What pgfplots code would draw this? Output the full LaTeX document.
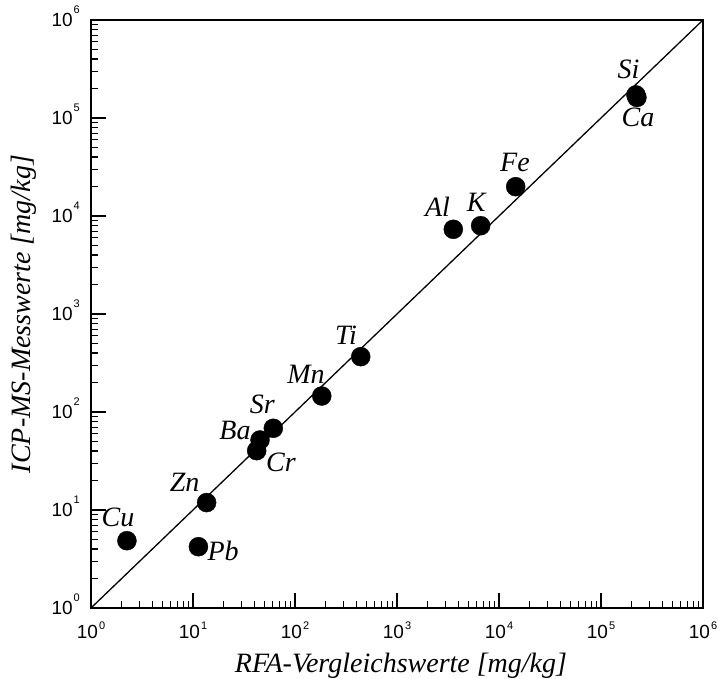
\documentclass[border=0pt]{standalone}
\usepackage{fontspec}
\usepackage{pgfplots}
\usepackage{pgfplotstable}
\pgfplotsset{compat=1.18}
\newfontfamily\seriflab{Liberation Serif}
\newfontfamily\tickf{Liberation Sans}
\newcommand\lab{\seriflab\itshape\fontsize{28}{28}\selectfont}
\newcommand\yt[1]{{\tickf\fontsize{19}{19}\selectfont 10\hspace{1pt}\raisebox{13.5pt}{\fontsize{11}{11}\selectfont #1}}}
\newcommand\xt[1]{{\tickf\fontsize{19}{19}\selectfont 10\hspace{1pt}\raisebox{9pt}{\fontsize{11}{11}\selectfont #1}}}

\pgfplotstableread{
x y dx dy lab
2.25 4.86 -9 14 Cu
11.3 4.22 24.7 -13.3 Pb
13.6 11.9 -22 11 Zn
42.1 40.3 24.3 -21 Cr
45.4 51.8 -25 0.7 Ba
61.3 68.2 -11 15 Sr
183 145.6 -15.7 12.7 Mn
441 367 -14.7 11.7 Ti
3565 7315 -15.8 12.6 Al
6610 7965 -4.4 14 K
14580 19910 -0.7 15 Fe
220000 172000 -7.4 16.6 Si
225000 162000 1.1 -29.2 Ca
}\datatable

\begin{document}
\begin{tikzpicture}
\begin{axis}[
  name=ax,
  scale only axis,
  width=612pt, height=588pt,
  xmode=log, ymode=log,
  xmin=1, xmax=1e6, ymin=1, ymax=1e6,
  axis line style={line width=1.8pt},
  tick pos=left,
  tick align=inside,
  major tick length=15pt,
  minor tick length=7.5pt,
  every tick/.style={black, line width=1.2pt},
  xtick={1,10,100,1000,10000,100000,1000000},
  ytick={1,10,100,1000,10000,100000,1000000},
  minor xtick={2,3,4,5,6,7,8,9,20,30,40,50,60,70,80,90,200,300,400,500,600,700,800,900,2000,3000,4000,5000,6000,7000,8000,9000,2e4,3e4,4e4,5e4,6e4,7e4,8e4,9e4,2e5,3e5,4e5,5e5,6e5,7e5,8e5,9e5},
  minor ytick={2,3,4,5,6,7,8,9,20,30,40,50,60,70,80,90,200,300,400,500,600,700,800,900,2000,3000,4000,5000,6000,7000,8000,9000,2e4,3e4,4e4,5e4,6e4,7e4,8e4,9e4,2e5,3e5,4e5,5e5,6e5,7e5,8e5,9e5},
  xticklabels={\xt{0},\xt{1},\xt{2},\xt{3},\xt{4},\xt{5},\xt{6}},
  yticklabels={\yt{0},\yt{1},\yt{2},\yt{3},\yt{4},\yt{5},\yt{6}},
  xticklabel style={anchor=base, inner sep=0pt, yshift=-31pt},
  yticklabel style={anchor=base east, inner sep=0pt, xshift=-11pt, yshift=-6.8pt},
  xlabel={RFA-Vergleichswerte [mg/kg]},
  ylabel={ICP-MS-Messwerte [mg/kg]},
  xlabel style={font=\lab, at={(axis description cs:0.5,-0.1105)}, anchor=base, inner sep=0pt, xshift=4pt},
  ylabel style={font=\lab, at={(axis description cs:-0.0985,0.5)}, anchor=base, inner sep=0pt},
  clip=false,
]
\addplot[black, line width=1.3pt] coordinates {(1,1) (1e6,1e6)};
\addplot[only marks, mark=*, mark size=9.5pt, black, mark options={fill=black, draw=black},
  point meta=explicit symbolic,
  visualization depends on={\thisrow{dx}\as\dx},
  visualization depends on={\thisrow{dy}\as\dy},
  nodes near coords,
  every node near coord/.append style={font=\lab, anchor=base, inner sep=0pt, xshift=\dx pt, yshift=\dy pt, black}]
  table[x=x, y=y, meta=lab] {\datatable};
\end{axis}
\pgfresetboundingbox
\path ([xshift=-91pt,yshift=-71pt]ax.south west) rectangle ([xshift=627pt,yshift=608pt]ax.south west);
\end{tikzpicture}
\end{document}
